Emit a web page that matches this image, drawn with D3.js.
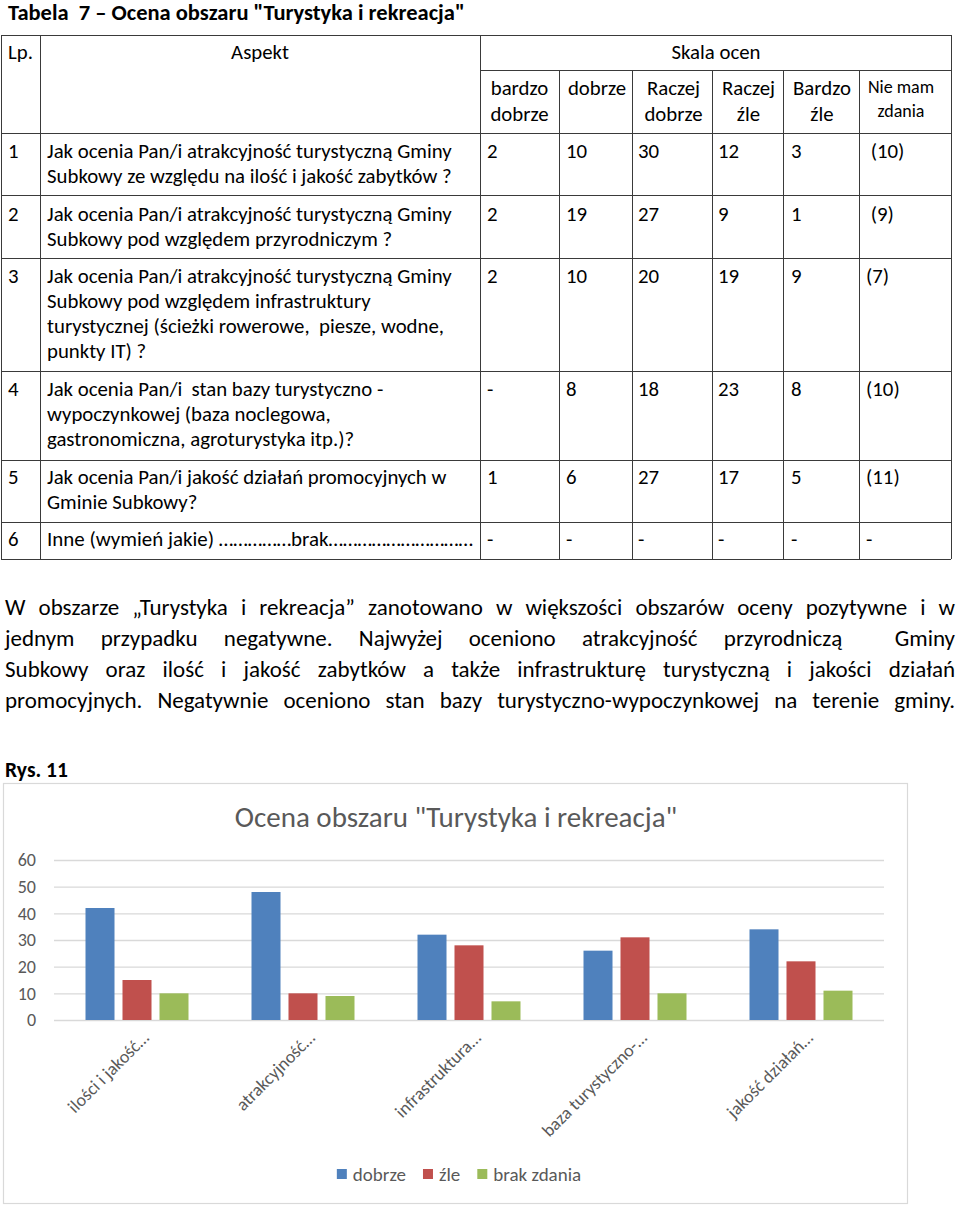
<!DOCTYPE html>
<html>
<head>
<meta charset="utf-8">
<script src="https://cdn.jsdelivr.net/npm/d3@7"></script>
<style>
  html, body { margin: 0; padding: 0; background: #fff; }
  svg { display: block; }
  text { white-space: pre; }
</style>
</head>
<body>
<script>
// ---------- DATA ----------
const docTitle = 'Tabela  7 – Ocena obszaru "Turystyka i rekreacja"';
const headerLp = "Lp.";
const headerAspekt = "Aspekt";
const headerSkala = "Skala ocen";
const scaleHeaders = [["bardzo", "dobrze"], ["dobrze"], ["Raczej", "dobrze"], ["Raczej", "źle"], ["Bardzo", "źle"], ["Nie mam", "zdania"]];
const lp = ["1", "2", "3", "4", "5", "6"];
const aspekty = [
  ["Jak ocenia Pan/i atrakcyjność turystyczną Gminy", "Subkowy ze względu na ilość i jakość zabytków ?"],
  ["Jak ocenia Pan/i atrakcyjność turystyczną Gminy", "Subkowy pod względem przyrodniczym ?"],
  ["Jak ocenia Pan/i atrakcyjność turystyczną Gminy", "Subkowy pod względem infrastruktury", "turystycznej (ścieżki rowerowe,  piesze, wodne,", "punkty IT) ?"],
  ["Jak ocenia Pan/i  stan bazy turystyczno -", "wypoczynkowej (baza noclegowa,", "gastronomiczna, agroturystyka itp.)?"],
  ["Jak ocenia Pan/i jakość działań promocyjnych w", "Gminie Subkowy?"],
  ["Inne (wymień jakie) ……………brak…………………………"]
];
const bardzoDobrzeT = ["2", "2", "2", "-", "1", "-"];
const dobrzeT = ["10", "19", "10", "8", "6", "-"];
const raczejDobrzeT = ["30", "27", "20", "18", "27", "-"];
const raczejZleT = ["12", "9", "19", "23", "17", "-"];
const bardzoZleT = ["3", "1", "9", "8", "5", "-"];
const nieMamZdaniaT = [" (10)", " (9)", "(7)", "(10)", "(11)", "-"];

const paragraphLines = [
  "W obszarze „Turystyka i rekreacja” zanotowano w większości obszarów oceny pozytywne i w",
  "jednym przypadku negatywne. Najwyżej oceniono atrakcyjność przyrodniczą  Gminy",
  "Subkowy oraz ilość i jakość zabytków a także infrastrukturę turystyczną i jakości działań",
  "promocyjnych. Negatywnie oceniono stan bazy turystyczno-wypoczynkowej na terenie gminy."
];

const figLabel = "Rys. 11";
const chartTitle = 'Ocena obszaru "Turystyka i rekreacja"';
const categories = ["ilości i jakość…", "atrakcyjność…", "infrastruktura…", "baza turystyczno-…", "jakość działań…"];
const seriesNames = ["dobrze", "źle", "brak zdania"];
const dobrze = [42, 48, 32, 26, 34];
const zle = [15, 10, 28, 31, 22];
const brakZdania = [10, 9, 7, 10, 11];
const yTicks = [0, 10, 20, 30, 40, 50, 60];
const seriesColors = ["#4f81bd", "#c0504d", "#9bbb59"];

// ---------- SETUP ----------
const FONT = "Carlito, Lato, 'Open Sans', sans-serif";
const svg = d3.select("body").append("svg")
  .attr("width", 960).attr("height", 1209)
  .style("font-family", FONT);

// ---------- DOCUMENT TITLE ----------
svg.append("text").attr("x", 8).attr("y", 20)
  .attr("font-size", 22.5).attr("font-weight", "bold").attr("fill", "#000")
  .text(docTitle);

// ---------- TABLE ----------
const colX = [1, 40, 480, 559, 632, 712, 783, 859, 951];
const rowY = [35, 133, 195, 258, 371, 460, 522, 559];
const lineColor = "#3a3a3a";
const tbl = svg.append("g").attr("stroke", lineColor).attr("stroke-width", 1).attr("shape-rendering", "crispEdges");
rowY.forEach(y => tbl.append("line").attr("x1", colX[0]).attr("x2", colX[8]).attr("y1", y + 0.5).attr("y2", y + 0.5));
tbl.append("line").attr("x1", colX[2]).attr("x2", colX[8]).attr("y1", 70.5).attr("y2", 70.5);
[0, 1, 2, 8].forEach(i => tbl.append("line").attr("x1", colX[i] + 0.5).attr("x2", colX[i] + 0.5).attr("y1", rowY[0]).attr("y2", rowY[7]));
[3, 4, 5, 6, 7].forEach(i => tbl.append("line").attr("x1", colX[i] + 0.5).attr("x2", colX[i] + 0.5).attr("y1", 70).attr("y2", rowY[7]));

const TFS = 20.8;
const tt = svg.append("g").attr("fill", "#000").attr("font-size", TFS);
tt.append("text").attr("x", 8).attr("y", 59).text(headerLp);
tt.append("text").attr("x", 260).attr("y", 59).attr("text-anchor", "middle").text(headerAspekt);
tt.append("text").attr("x", 716).attr("y", 59).attr("text-anchor", "middle").text(headerSkala);
const headCenters = [519.5, 597, 673.5, 748.5, 822, 901];
scaleHeaders.forEach((lines, i) => {
  const last = i === 5;
  lines.forEach((l, j) => {
    tt.append("text").attr("x", headCenters[i]).attr("y", (last ? 93 : 95) + j * (last ? 24 : 26))
      .attr("text-anchor", "middle").attr("font-size", last ? 18 : TFS).text(l);
  });
});

const firstBase = [158, 221, 283, 396, 484, 546];
const lineStep = 25;
aspekty.forEach((lines, r) => {
  tt.append("text").attr("x", 8).attr("y", firstBase[r]).text(lp[r]);
  lines.forEach((l, j) => {
    const t = tt.append("text").attr("x", 47).attr("y", firstBase[r] + j * lineStep).text(l);
    if (r === 5) t.attr("textLength", 426).attr("lengthAdjust", "spacingAndGlyphs");
  });
});
const valueCols = [bardzoDobrzeT, dobrzeT, raczejDobrzeT, raczejZleT, bardzoZleT, nieMamZdaniaT];
const valueX = [487, 566, 638, 718, 791, 866];
valueCols.forEach((col, c) => {
  col.forEach((v, r) => {
    tt.append("text").attr("x", valueX[c]).attr("y", firstBase[r]).text(v);
  });
});

// ---------- PARAGRAPH (justified) ----------
const pg = svg.append("g").attr("fill", "#000");
const pLeft = 5, pRight = 955, pBase = [615, 646, 677, 708];
// choose a size at which the tightest line just fits with natural spaces
const probe = pg.append("text").attr("font-size", 20).text(paragraphLines[3]);
const probeW = probe.node().getComputedTextLength();
probe.remove();
const PFS = Math.min(23, 20 * (pRight - pLeft) / probeW);
pg.attr("font-size", PFS);
paragraphLines.forEach((line, i) => {
  const words = line.split(" ");
  const nodes = words.map(w => pg.append("text").attr("y", pBase[i]).text(w));
  const widths = nodes.map(n => n.node().getComputedTextLength());
  const total = d3.sum(widths);
  const minGap = PFS * 0.22;
  let gap = (pRight - pLeft - total) / (words.length - 1);
  let scale = 1;
  if (gap < minGap) { scale = (pRight - pLeft - minGap * (words.length - 1)) / total; gap = minGap; }
  let x = pLeft;
  nodes.forEach((n, k) => {
    n.attr("x", x);
    if (scale !== 1) n.attr("textLength", widths[k] * scale).attr("lengthAdjust", "spacingAndGlyphs");
    x += widths[k] * scale + gap;
  });
});

// ---------- FIGURE LABEL ----------
svg.append("text").attr("x", 5).attr("y", 777)
  .attr("font-size", 21.5).attr("font-weight", "bold").attr("fill", "#000")
  .text(figLabel);

// ---------- CHART ----------
const chart = svg.append("g");
chart.append("rect").attr("x", 3.5).attr("y", 783.5).attr("width", 904).attr("height", 420)
  .attr("fill", "#fff").attr("stroke", "#d9d9d9").attr("stroke-width", 1.2);

const x0 = d3.scaleBand().domain(categories).range([54, 884]);
const x1 = d3.scaleBand().domain(seriesNames).range([31.5, 134.5]).paddingInner(0.216);
const y = d3.scaleLinear().domain([0, 60]).range([1020, 860]);

chart.append("text").attr("x", 456).attr("y", 827).attr("text-anchor", "middle")
  .attr("font-size", 29).attr("fill", "#595959").text(chartTitle);

const yAxis = d3.axisLeft(y).tickValues(yTicks).tickSize(-(884 - 54)).tickPadding(18);
const ga = chart.append("g").attr("transform", "translate(54,0)").call(yAxis);
ga.select(".domain").remove();
ga.selectAll(".tick line").attr("stroke", "#d9d9d9").attr("stroke-width", 1.3);
ga.selectAll(".tick text").attr("fill", "#595959").attr("font-size", 18).attr("font-family", FONT);

const rows = categories.map((c, i) => ({ cat: c, vals: [dobrze[i], zle[i], brakZdania[i]] }));
const groups = chart.selectAll("g.grp").data(rows).join("g").attr("class", "grp")
  .attr("transform", d => `translate(${x0(d.cat)},0)`);
groups.selectAll("rect").data(d => d.vals.map((v, k) => ({ k, v })))
  .join("rect")
  .attr("x", d => x1(seriesNames[d.k]))
  .attr("width", x1.bandwidth())
  .attr("y", d => y(d.v))
  .attr("height", d => y(0) - y(d.v))
  .attr("fill", d => seriesColors[d.k]);

const xAxis = d3.axisBottom(x0).tickSize(0).tickPadding(0);
const gx = chart.append("g").attr("transform", "translate(0,1020)").call(xAxis);
gx.select(".domain").remove();
gx.selectAll(".tick text")
  .attr("font-size", 18).attr("font-family", FONT).attr("fill", "#595959")
  .attr("text-anchor", "end").attr("dy", null).attr("y", 0)
  .attr("transform", "translate(13,19) rotate(-45)");

// Legend
const lg = chart.append("g").attr("font-size", 19).attr("fill", "#595959");
const items = seriesNames.map((s, i) => {
  const g = lg.append("g");
  g.append("rect").attr("width", 10).attr("height", 10).attr("y", 1169).attr("fill", seriesColors[i]);
  const t = g.append("text").attr("x", 16).attr("y", 1181).text(s);
  return { g, w: 16 + t.node().getComputedTextLength() };
});
const itemGap = 17;
const totalW = d3.sum(items, d => d.w) + itemGap * (items.length - 1);
let lx = 459 - totalW / 2;
items.forEach(it => { it.g.attr("transform", `translate(${lx},0)`); lx += it.w + itemGap; });
</script>
</body>
</html>
